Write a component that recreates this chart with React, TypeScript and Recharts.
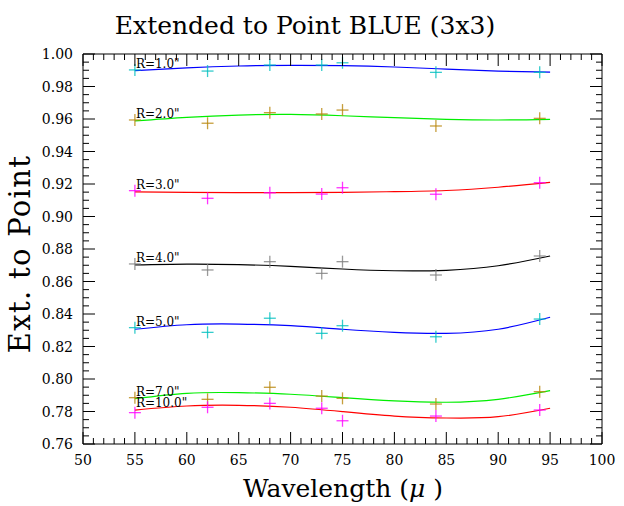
import React from "react";
import {
  ComposedChart,
  Line,
  Scatter,
  XAxis,
  YAxis,
  ReferenceArea,
  LabelList,
} from "recharts";

// ---- data ----
const pointX = [55, 62, 68, 73, 75, 84, 94];
const fitX = [55, 60, 65, 70, 75, 80, 85, 90, 95];

const r1Pts = [0.9902, 0.9895, 0.9932, 0.9932, 0.9946, 0.9887, 0.9887];
const r1Fit = [0.9898, 0.9915, 0.9926, 0.993, 0.9928, 0.992, 0.9907, 0.9895, 0.9888];
const r2Pts = [0.9594, 0.9574, 0.9639, 0.9631, 0.9655, 0.9557, 0.9604];
const r2Fit = [0.9588, 0.961, 0.9624, 0.9628, 0.962, 0.9608, 0.9598, 0.9594, 0.9598];
const r3Pts = [0.9159, 0.9112, 0.9146, 0.9138, 0.9177, 0.9137, 0.9208];
const r3Fit = [0.9151, 0.9148, 0.9147, 0.9147, 0.9149, 0.9153, 0.916, 0.918, 0.921];
const r4Pts = [0.8708, 0.8671, 0.8722, 0.865, 0.8722, 0.864, 0.8757];
const r4Fit = [0.8702, 0.8707, 0.8704, 0.8693, 0.8677, 0.8666, 0.8669, 0.8697, 0.8757];
const r5Pts = [0.8316, 0.8287, 0.8374, 0.8281, 0.8328, 0.826, 0.8369];
const r5Fit = [0.8306, 0.8334, 0.8338, 0.8328, 0.8306, 0.8287, 0.8281, 0.8306, 0.838];
const r7Pts = [0.7885, 0.7875, 0.7949, 0.7895, 0.7881, 0.7846, 0.7922];
const r7Fit = [0.7879, 0.7912, 0.7916, 0.7906, 0.7885, 0.7865, 0.7857, 0.7875, 0.7928];
const r10Pts = [0.7793, 0.7826, 0.785, 0.782, 0.7743, 0.7772, 0.7809];
const r10Fit = [0.7809, 0.7834, 0.7838, 0.7826, 0.7799, 0.7772, 0.776, 0.7768, 0.782];

const seriesNames = ['R=1.0"', 'R=2.0"', 'R=3.0"', 'R=4.0"', 'R=5.0"', 'R=7.0"', 'R=10.0"'];
const seriesPts = [r1Pts, r2Pts, r3Pts, r4Pts, r5Pts, r7Pts, r10Pts];
const seriesFit = [r1Fit, r2Fit, r3Fit, r4Fit, r5Fit, r7Fit, r10Fit];
const lineColors = ["#0000ff", "#00ee00", "#ff0000", "#000000", "#0000ff", "#00ee00", "#ff0000"];
const markerColors = ["#00bfbf", "#b8860b", "#ff00ff", "#808080", "#00bfbf", "#b8860b", "#ff00ff"];

const xMajorLabels = [50, 55, 60, 65, 70, 75, 80, 85, 90, 95, 100];
const yMajorLabels = ["0.76", "0.78", "0.80", "0.82", "0.84", "0.86", "0.88", "0.90", "0.92", "0.94", "0.96", "0.98", "1.00"];

const xTicks = Array.from({ length: 51 }, (_, i) => 50 + i);
const yTicks = Array.from({ length: 49 }, (_, i) => Math.round((0.76 + i * 0.005) * 1000) / 1000);

// ---- layout ----
const W = 624;
const H = 506;
const PL = 83;
const PR = 602;
const PT = 54;
const PB = 444;
const XAXIS_H = 30;
const YAXIS_W = 40;
const FONT = "DejaVu Serif";

const XTick = (props: any) => {
  const { x, payload } = props;
  const v = payload.value;
  const major = v % 5 === 0;
  const len = major ? 12 : 6;
  return (
    <g>
      <line x1={x} x2={x} y1={PB} y2={PB - len} stroke="#000" strokeWidth={1} />
      <line x1={x} x2={x} y1={PT} y2={PT + len} stroke="#000" strokeWidth={1} />
      {major && xMajorLabels.includes(v) ? (
        <text x={x} y={PB + 21} textAnchor="middle" fontFamily={FONT} fontSize={14} fill="#000">
          {v}
        </text>
      ) : null}
    </g>
  );
};

const YTick = (props: any) => {
  const { y, payload, index } = props;
  const major = index % 4 === 0;
  const len = major ? 12 : 6;
  const label = Number(payload.value).toFixed(2);
  return (
    <g>
      <line x1={PL} x2={PL + len} y1={y} y2={y} stroke="#000" strokeWidth={1} />
      <line x1={PR} x2={PR - len} y1={y} y2={y} stroke="#000" strokeWidth={1} />
      {major && yMajorLabels.includes(label) ? (
        <text x={PL - 10} y={y} dy="0.36em" textAnchor="end" fontFamily={FONT} fontSize={14} fill="#000">
          {label}
        </text>
      ) : null}
    </g>
  );
};

const makePlus = (color: string) => (props: any) => {
  const { cx, cy } = props;
  const a = 6;
  return (
    <g>
      <line x1={cx - a} x2={cx + a} y1={cy} y2={cy} stroke={color} strokeWidth={1.3} strokeOpacity={0.8} />
      <line x1={cx} x2={cx} y1={cy - a} y2={cy + a} stroke={color} strokeWidth={1.3} strokeOpacity={0.8} />
    </g>
  );
};

const makeLabel = (name: string) => (props: any) => {
  const { x, y, index } = props;
  if (index !== 0) return <g />;
  return (
    <text x={x + 1} y={y - 3} fontFamily={FONT} fontSize={12} fill="#000">
      {name}
    </text>
  );
};

export default function App() {
  const series = seriesNames.map((name, i) => ({
    name,
    pts: pointX.map((x, j) => ({ x, y: seriesPts[i][j] })),
    fit: fitX.map((x, j) => ({ x, y: seriesFit[i][j] })),
    lineColor: lineColors[i],
    markerColor: markerColors[i],
  }));

  return (
    <div style={{ position: "absolute", left: 0, top: 0, width: W, height: H, background: "#fff" }}>
      <ComposedChart
        width={W}
        height={H}
        margin={{ top: PT, right: W - PR, bottom: H - PB - XAXIS_H, left: PL - YAXIS_W }}
      >
        <XAxis
          dataKey="x"
          type="number"
          domain={[50, 100]}
          ticks={xTicks}
          interval={0}
          allowDataOverflow
          height={XAXIS_H}
          axisLine={false}
          tickLine={false}
          tick={(p: any) => <XTick {...p} />}
        />
        <YAxis
          type="number"
          domain={[0.76, 1.0]}
          ticks={yTicks}
          interval={0}
          allowDataOverflow
          width={YAXIS_W}
          axisLine={false}
          tickLine={false}
          tick={(p: any) => <YTick {...p} />}
        />
        <ReferenceArea x1={50} x2={100} y1={0.76} y2={1.0} fill="none" stroke="#000" strokeWidth={1} ifOverflow="visible" />
        {series.map((s) => (
          <Scatter
            key={"sc" + s.name}
            data={s.pts}
            dataKey="y"
            isAnimationActive={false}
            shape={makePlus(s.markerColor)}
          />
        ))}
        {series.map((s) => (
          <Line
            key={"ln" + s.name}
            data={s.fit}
            dataKey="y"
            type="natural"
            stroke={s.lineColor}
            strokeWidth={1.2}
            dot={false}
            activeDot={false}
            isAnimationActive={false}
          >
            <LabelList dataKey="y" content={makeLabel(s.name)} />
          </Line>
        ))}
      </ComposedChart>
      <svg width={W} height={H} style={{ position: "absolute", left: 0, top: 0, pointerEvents: "none" }}>
        <text x={305} y={34} textAnchor="middle" fontFamily={FONT} fontSize={25} fill="#000">
          Extended to Point BLUE (3x3)
        </text>
        <text x={343} y={497} textAnchor="middle" fontFamily={FONT} fontSize={25} fill="#000">
          Wavelength (<tspan fontStyle="italic">μ</tspan> )
        </text>
        <text
          x={30}
          y={254}
          textAnchor="middle"
          fontFamily={FONT}
          fontSize={29}
          letterSpacing={1.3}
          fill="#000"
          transform="rotate(-90 30 254)"
        >
          Ext. to Point
        </text>
      </svg>
    </div>
  );
}
